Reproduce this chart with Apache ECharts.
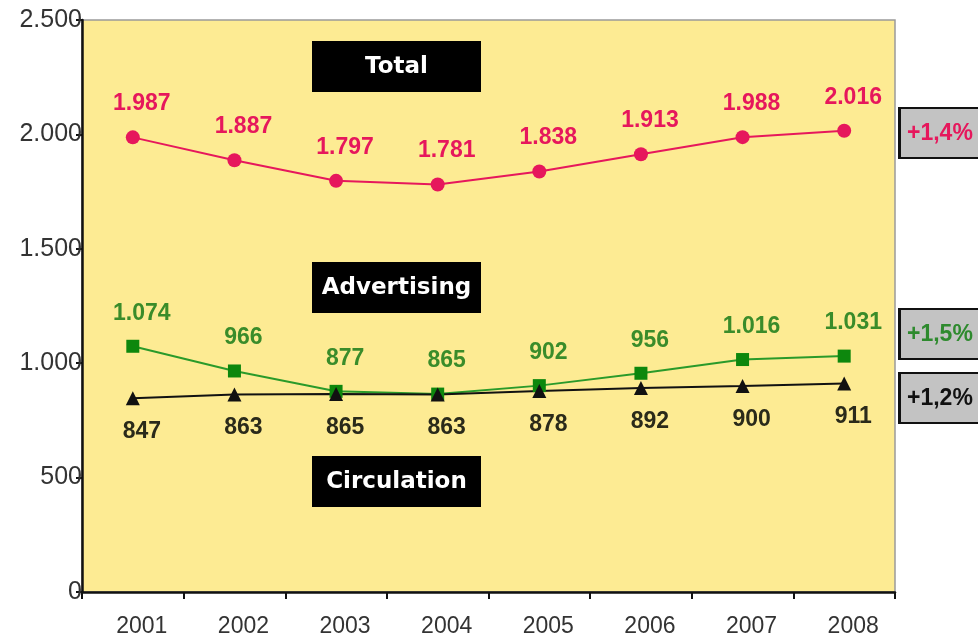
<!DOCTYPE html>
<html><head><meta charset="utf-8">
<script src="https://cdn.jsdelivr.net/npm/echarts@6/dist/echarts.min.js"></script>
<style>html,body{margin:0;padding:0;background:#fff}#c{width:978px;height:642px}</style>
</head><body><div id="c"></div>
<script>
var years = ['2001','2002','2003','2004','2005','2006','2007','2008'];
var total = [1987,1887,1797,1781,1838,1913,1988,2016];
var advertising = [1074,966,877,865,902,956,1016,1031];
var circulation = [847,863,865,863,878,892,900,911];
var yTicks = [0,500,1000,1500,2000,2500];
var growthLabels = ['+1,4%','+1,5%','+1,2%'];
var seriesNames = ['Total','Advertising','Circulation'];

function fmt(v){ v = Math.round(v); var s = String(v); if (v >= 1000) s = s.slice(0, s.length-3) + '.' + s.slice(-3); return s; }

var FF = "'Liberation Sans', Arial, sans-serif";
var pink = '#e6175c', black = '#111';
var chart = echarts.init(document.getElementById('c'));
var lblFont = {fontFamily:FF, fontWeight:'bold', fontSize:23, offset:[9,0]};

function boxTitle(text, y){
  return {type:'group', left:312, top:y, children:[
    {type:'rect', shape:{x:0,y:0,width:169,height:51}, style:{fill:'#000'}},
    {type:'text', x:84.5, y:26, style:{text:text, fill:'#fff', font:"bold 23px 'DejaVu Sans', sans-serif", align:'center', verticalAlign:'middle'}}
  ]};
}
function growthBox(text, y, color){
  return {type:'group', left:898, top:y, children:[
    {type:'rect', shape:{x:1,y:0,width:100,height:50}, style:{fill:'#c3c3c3', stroke:'#111', lineWidth:2}},
    {type:'rect', shape:{x:0,y:0,width:3,height:50}, style:{fill:'#111'}},
    {type:'text', x:9, y:26, style:{text:text, fill:color, font:"bold 23px 'Liberation Sans', Arial, sans-serif", align:'left', verticalAlign:'middle'}}
  ]};
}

chart.setOption({
  animation:false,
  grid:{left:82, right:83, top:20, bottom:50, show:true, backgroundColor:'#fdeb93', borderColor:'#9a9a9a', borderWidth:1.5},
  xAxis:{type:'category', data:years, boundaryGap:true,
    axisLine:{lineStyle:{color:'#111', width:2.5}},
    axisTick:{show:true, length:7, lineStyle:{color:'#111', width:2}},
    axisLabel:{color:'#333', fontSize:23, margin:23, padding:[0,0,0,18], fontFamily:FF}},
  yAxis:{type:'value', min:yTicks[0], max:yTicks[yTicks.length-1], interval:500,
    splitLine:{show:false},
    axisLine:{show:true, lineStyle:{color:'#111', width:2.5}},
    axisTick:{show:true, length:6, lineStyle:{color:'#111', width:2}},
    axisLabel:{color:'#333', fontSize:25, margin:0, fontFamily:FF, formatter:function(v){return fmt(v);}}},
  series:[
    {name:seriesNames[0], type:'line', data:total, symbol:'circle', symbolSize:14,
      lineStyle:{color:pink, width:2}, itemStyle:{color:pink},
      label:Object.assign({show:true, position:'top', distance:15, color:pink, formatter:function(p){return fmt(p.value);}}, lblFont)},
    {name:seriesNames[1], type:'line', data:advertising, symbol:'rect', symbolSize:13,
      lineStyle:{color:'#2a9a2a', width:2}, itemStyle:{color:'#0d870d'},
      label:Object.assign({show:true, position:'top', distance:15, color:'#3a8c2a', formatter:function(p){return fmt(p.value);}}, lblFont)},
    {name:seriesNames[2], type:'line', data:circulation, symbol:'triangle', symbolSize:14,
      lineStyle:{color:black, width:2}, itemStyle:{color:black},
      label:Object.assign({show:true, position:'bottom', distance:15, color:'#2a2a1a', formatter:function(p){return fmt(p.value);}}, lblFont)}
  ],
  graphic:[
    boxTitle(seriesNames[0], 41),
    boxTitle(seriesNames[1], 262),
    boxTitle(seriesNames[2], 456),
    growthBox(growthLabels[0], 107, pink),
    growthBox(growthLabels[1], 308, '#2e8a2e'),
    growthBox(growthLabels[2], 372, '#111')
  ]
});
</script></body></html>
